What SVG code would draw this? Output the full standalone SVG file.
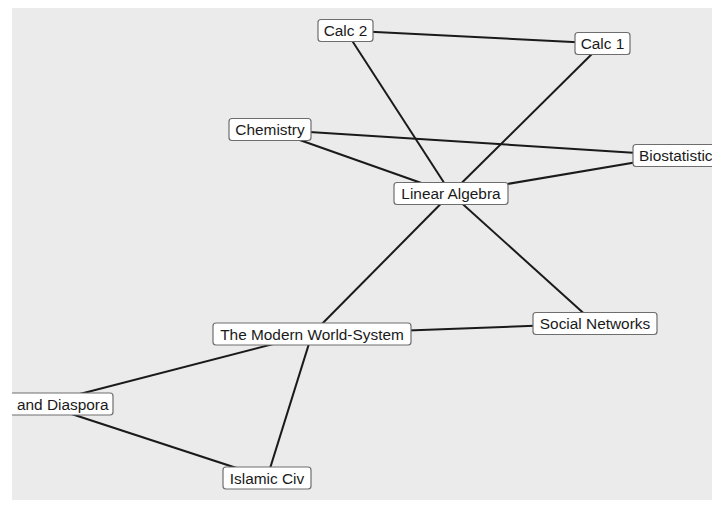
<svg xmlns="http://www.w3.org/2000/svg" width="720" height="513" viewBox="0 0 720 513">
<defs>
<clipPath id="panel"><rect x="12" y="8" width="700" height="492"/></clipPath>
<style>
.bg{fill:#ebebeb}
.edge{stroke:#1a1a1a;stroke-width:2;fill:none}
.box{fill:#ffffff;stroke:#6e6e6e;stroke-width:1.2}
.lbl{font-family:"Liberation Sans",Arial,sans-serif;font-size:15.4px;fill:#1a1a1a;text-anchor:middle}
.lbl-s{font-family:"Liberation Sans",Arial,sans-serif;font-size:15.4px;fill:#1a1a1a;text-anchor:start}
</style>
</defs>
<rect width="720" height="513" fill="#ffffff"/>
<rect class="bg" x="12" y="8" width="700" height="492"/>
<g clip-path="url(#panel)">
<g id="connectors">
<line class="edge" x1="345.5" y1="30.5" x2="602.5" y2="43.5"/>
<line class="edge" x1="345.5" y1="30.5" x2="451" y2="193.5"/>
<line class="edge" x1="602.5" y1="43.5" x2="451" y2="193.5"/>
<line class="edge" x1="270" y1="129.5" x2="676" y2="155.5"/>
<line class="edge" x1="270" y1="129.5" x2="451" y2="193.5"/>
<line class="edge" x1="451" y1="193.5" x2="676" y2="155.5"/>
<line class="edge" x1="451" y1="193.5" x2="312" y2="334"/>
<line class="edge" x1="451" y1="193.5" x2="595" y2="323.5"/>
<line class="edge" x1="312" y1="334" x2="595" y2="323.5"/>
<line class="edge" x1="312" y1="334" x2="41" y2="404"/>
<line class="edge" x1="312" y1="334" x2="267" y2="478"/>
<line class="edge" x1="41" y1="404" x2="267" y2="478"/>
</g>
<g id="calc2">
<rect class="box" x="318" y="19.5" width="55" height="22" rx="3"/>
<text class="lbl" x="345.5" y="36">Calc 2</text>
</g>
<g id="calc1">
<rect class="box" x="575" y="32.5" width="55" height="22" rx="3"/>
<text class="lbl" x="602.5" y="49">Calc 1</text>
</g>
<g id="chemistry">
<rect class="box" x="229" y="118.5" width="82" height="22" rx="3"/>
<text class="lbl" x="270" y="135">Chemistry</text>
</g>
<g id="biostatistics">
<rect class="box" x="633" y="144.5" width="90" height="22" rx="3"/>
<text class="lbl-s" x="639" y="161">Biostatistic</text>
</g>
<g id="linear-algebra">
<rect class="box" x="394" y="182.5" width="114" height="22" rx="3"/>
<text class="lbl" x="451" y="199">Linear Algebra</text>
</g>
<g id="social-networks">
<rect class="box" x="533" y="312.5" width="124" height="22" rx="3"/>
<text class="lbl" x="595" y="329">Social Networks</text>
</g>
<g id="modern-world-system">
<rect class="box" x="213" y="323" width="198" height="22" rx="3"/>
<text class="lbl" x="312" y="339.5">The Modern World-System</text>
</g>
<g id="diaspora">
<rect class="box" x="-31" y="393" width="144" height="22" rx="3"/>
<text class="lbl-s" x="17" y="409.5">and Diaspora</text>
</g>
<g id="islamic-civ">
<rect class="box" x="223" y="467" width="88" height="22" rx="3"/>
<text class="lbl" x="267" y="483.5">Islamic Civ</text>
</g>
</g>
</svg>
